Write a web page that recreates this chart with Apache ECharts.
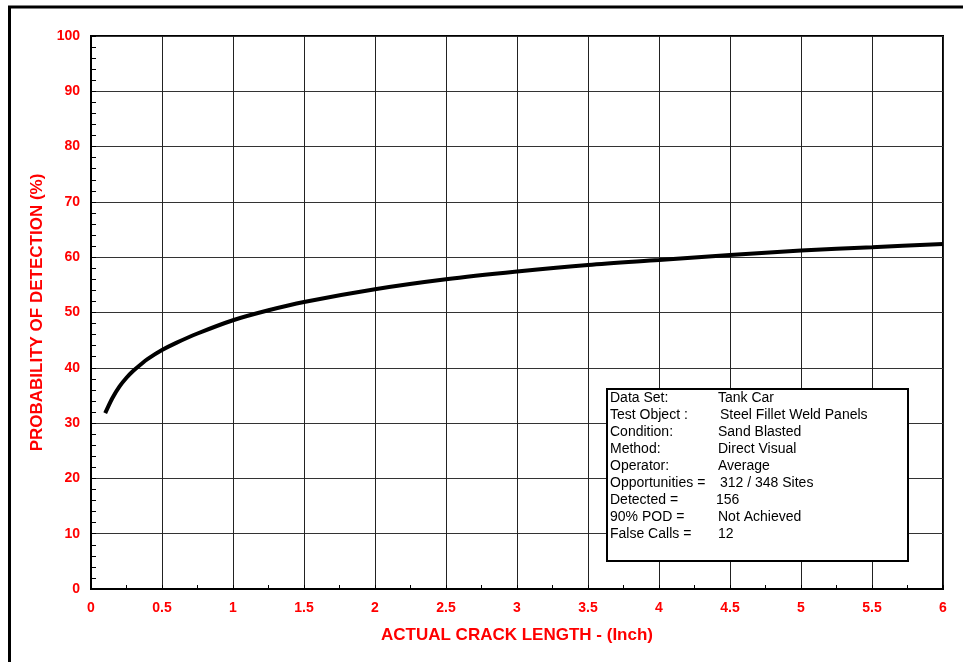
<!DOCTYPE html>
<html><head><meta charset="utf-8">
<script src="https://cdn.jsdelivr.net/npm/echarts@6/dist/echarts.min.js"></script>
<style>html,body{margin:0;padding:0;background:#fff}#c{width:963px;height:662px}</style>
</head><body><div id="c"></div>
<script>
const crackLength = [0.1, 0.15, 0.2, 0.25, 0.3, 0.35, 0.4, 0.5, 0.6, 0.75, 1, 1.25, 1.5, 2, 2.5, 3, 3.5, 4, 4.5, 5, 5.5, 6];
const pod = [31.8, 34.5, 36.6, 38.2, 39.5, 40.6, 41.6, 43.2, 44.5, 46.2, 48.6, 50.4, 51.9, 54.2, 56.0, 57.4, 58.6, 59.5, 60.4, 61.2, 61.8, 62.4];
const infoLabels = ['Data Set:', 'Test Object :', 'Condition:', 'Method:', 'Operator:', 'Opportunities =', 'Detected =', '90% POD =', 'False Calls ='];
const infoValues = ['Tank Car', 'Steel Fillet Weld Panels', 'Sand Blasted', 'Direct Visual', 'Average', '312 / 348 Sites', '156', 'Not Achieved', '12'];
const infoValueX = [718, 720, 718, 718, 718, 720, 716, 718, 718];

const chart = echarts.init(document.getElementById('c'));
const font = 'Liberation Sans, Arial, sans-serif';
const graphics = [
  {type:'line', shape:{x1:8, y1:7, x2:963, y2:7}, style:{stroke:'#000', lineWidth:3}, z:10},
  {type:'line', shape:{x1:9.5, y1:6, x2:9.5, y2:662}, style:{stroke:'#000', lineWidth:3}, z:10},
  {type:'rect', shape:{x:607, y:389, width:301, height:172}, style:{fill:'#fff', stroke:'#000', lineWidth:2}, z:20}
];
infoLabels.forEach((t,i)=>{
  graphics.push({type:'text', x:610, y:391+i*17, style:{text:t, fill:'#000', font:'14px '+font}, z:21});
  graphics.push({type:'text', x:infoValueX[i], y:391+i*17, style:{text:infoValues[i], fill:'#000', font:'14px '+font}, z:21});
});

chart.setOption({
  animation:false,
  grid:{left:91, right:20, top:36, bottom:73, show:true, borderColor:'#000', borderWidth:2},
  xAxis:{type:'value', min:0, max:6, interval:0.5,
    name:'ACTUAL CRACK LENGTH - (Inch)', nameLocation:'middle', nameGap:38,
    nameTextStyle:{color:'#ff0000', fontWeight:'bold', fontSize:17, fontFamily:font},
    axisLine:{show:true, lineStyle:{color:'#000', width:2}},
    axisTick:{show:true, inside:true, length:4, lineStyle:{color:'#000'}},
    minorTick:{show:true, splitNumber:2, length:4, lineStyle:{color:'#000', width:1}},
    axisLabel:{color:'#ff0000', fontWeight:'bold', fontSize:14, fontFamily:font, margin:12},
    splitLine:{show:true, lineStyle:{color:'#222', width:1}}
  },
  yAxis:{type:'value', min:0, max:100, interval:10,
    name:'PROBABILITY OF DETECTION (%)', nameLocation:'middle', nameGap:41,
    nameTextStyle:{color:'#ff0000', fontWeight:'bold', fontSize:17, fontFamily:font},
    axisLine:{show:true, lineStyle:{color:'#000', width:2}},
    axisTick:{show:true, inside:true, length:5, lineStyle:{color:'#000'}},
    minorTick:{show:true, splitNumber:5, length:5, lineStyle:{color:'#000', width:1}},
    axisLabel:{color:'#ff0000', fontWeight:'bold', fontSize:14, fontFamily:font, margin:11},
    splitLine:{show:true, lineStyle:{color:'#333', width:1}}
  },
  series:[{type:'line', data:crackLength.map((x,i)=>[x,pod[i]]), smooth:0.3, showSymbol:false,
    lineStyle:{color:'#000', width:4}, z:5}],
  graphic:graphics
});
</script></body></html>
